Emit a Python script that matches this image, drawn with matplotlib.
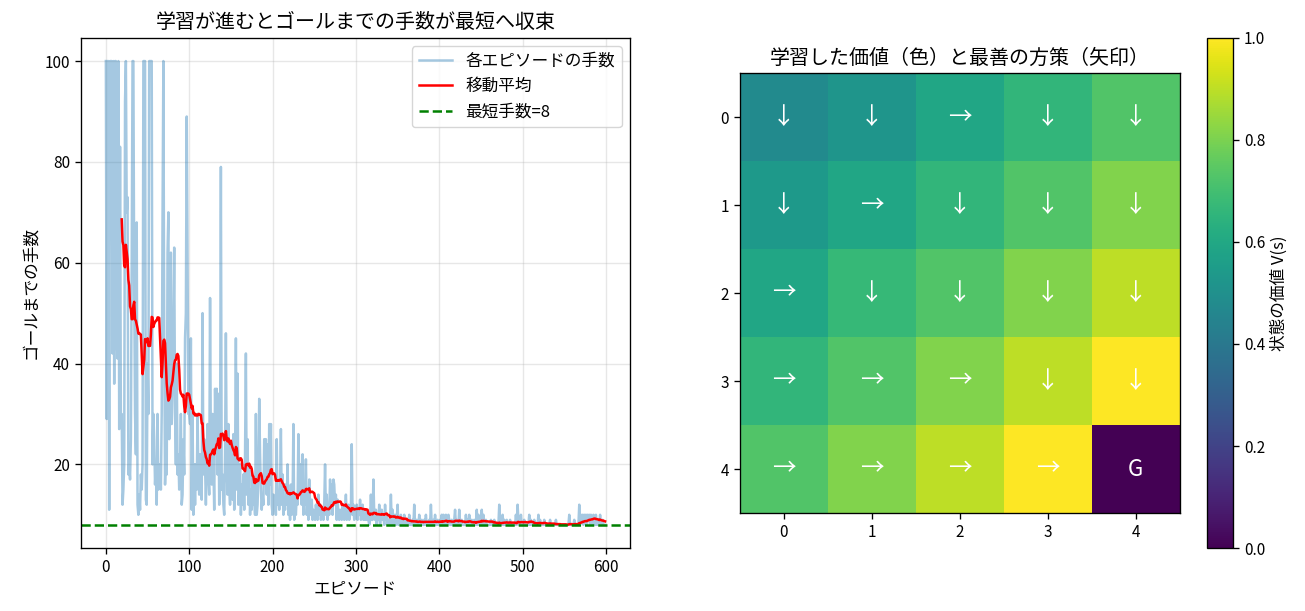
import numpy as np
import pandas as pd
import matplotlib
matplotlib.use("Agg")
import matplotlib.pyplot as plt

plt.rcParams['font.family'] = ['Noto Sans CJK JP', 'DejaVu Sans']
plt.rcParams['axes.linewidth'] = 0.96
plt.rcParams['xtick.major.size'] = 4.2
plt.rcParams['ytick.major.size'] = 4.2
plt.rcParams['xtick.major.width'] = 0.96
plt.rcParams['ytick.major.width'] = 0.96

# 各エピソードの手数 (20エピソードずつ)
steps = [
    100, 29, 100, 100, 11, 100, 100, 100, 42, 100, 36, 100, 100, 45, 41, 100, 27, 83, 28, 30,
    12, 15, 20, 92, 100, 70, 73, 18, 20, 17, 25, 60, 100, 100, 55, 30, 22, 68, 12, 10,
    14, 11, 18, 15, 20, 100, 100, 100, 13, 12, 40, 30, 100, 100, 100, 100, 20, 30, 25, 16,
    20, 12, 30, 15, 18, 20, 15, 30, 69, 100, 45, 16, 22, 18, 62, 70, 25, 40, 62, 28,
    35, 45, 63, 30, 20, 40, 18, 22, 15, 20, 30, 12, 14, 25, 18, 45, 50, 89, 60, 30,
    30, 28, 45, 11, 30, 10, 20, 12, 20, 15, 30, 18, 14, 22, 16, 13, 50, 18, 25, 20,
    12, 20, 28, 18, 14, 53, 22, 16, 30, 20, 11, 35, 24, 35, 18, 34, 12, 20, 79, 15,
    18, 12, 10, 22, 46, 20, 14, 28, 16, 12, 24, 18, 13, 26, 11, 20, 45, 15, 38, 12,
    14, 20, 10, 16, 12, 18, 11, 22, 42, 14, 25, 12, 20, 10, 15, 11, 18, 12, 14, 10,
    30, 10, 12, 18, 33, 22, 15, 11, 14, 12, 25, 20, 25, 14, 24, 12, 28, 16, 28, 12,
    10, 14, 11, 12, 10, 25, 12, 14, 11, 16, 27, 12, 18, 10, 13, 11, 16, 12, 20, 10,
    12, 9, 16, 10, 12, 28, 9, 11, 10, 14, 12, 26, 18, 14, 20, 12, 22, 10, 16, 12,
    21, 10, 14, 9, 17, 12, 10, 13, 9, 11, 10, 9, 12, 10, 9, 14, 10, 12, 9, 11,
    10, 9, 12, 20, 10, 14, 9, 12, 10, 17, 12, 16, 10, 17, 16, 12, 14, 9, 13, 10,
    9, 11, 10, 9, 12, 10, 9, 11, 14, 9, 10, 12, 9, 10, 11, 24, 10, 12, 9, 11,
    10, 12, 9, 11, 10, 13, 9, 10, 12, 9, 10, 9, 11, 9, 10, 9, 8, 9, 14, 9,
    9, 17, 10, 9, 11, 8, 10, 9, 12, 8, 10, 11, 9, 10, 8, 12, 9, 10, 8, 9,
    8, 9, 14, 8, 11, 9, 8, 10, 8, 9, 12, 8, 9, 8, 10, 8, 9, 8, 10, 8,
    8, 9, 8, 8, 10, 8, 8, 8, 9, 8, 12, 8, 8, 9, 8, 8, 10, 8, 8, 9,
    8, 8, 9, 8, 10, 8, 8, 8, 9, 8, 12, 8, 8, 9, 8, 10, 8, 8, 9, 8,
    8, 9, 8, 10, 8, 10, 8, 9, 10, 8, 8, 10, 9, 8, 8, 9, 8, 8, 9, 11,
    8, 9, 8, 8, 11, 8, 8, 9, 8, 8, 8, 8, 10, 8, 9, 8, 10, 8, 8, 9,
    8, 8, 9, 8, 8, 11, 8, 10, 8, 9, 8, 11, 8, 10, 8, 8, 9, 8, 8, 8,
    8, 8, 9, 8, 8, 8, 9, 8, 8, 8, 8, 8, 12, 8, 8, 8, 10, 8, 9, 8,
    8, 9, 8, 8, 8, 9, 8, 8, 8, 8, 8, 8, 10, 8, 12, 9, 8, 8, 10, 8,
    8, 8, 9, 8, 8, 8, 8, 8, 10, 8, 9, 8, 8, 8, 9, 8, 8, 8, 8, 10,
    8, 9, 8, 8, 8, 8, 9, 8, 8, 8, 8, 8, 8, 9, 8, 8, 8, 8, 8, 8,
    9, 8, 8, 8, 8, 8, 8, 8, 8, 8, 8, 8, 8, 8, 8, 8, 10, 8, 8, 8,
    8, 8, 9, 8, 8, 8, 8, 8, 12, 8, 10, 9, 10, 8, 10, 9, 10, 8, 10, 9,
    10, 8, 10, 9, 8, 10, 9, 8, 10, 8, 9, 8, 8, 10, 8, 8, 9, 8, 8, 8,
]
window = 20
optimal = 8

# 状態価値 V(s)
values = [
    [0.48, 0.52, 0.59, 0.66, 0.73],
    [0.54, 0.59, 0.66, 0.73, 0.81],
    [0.59, 0.67, 0.73, 0.81, 0.90],
    [0.66, 0.73, 0.81, 0.90, 1.00],
    [0.73, 0.81, 0.90, 1.00, 0.00],
]
# 最善の方策
policy = [
    ["↓", "↓", "→", "↓", "↓"],
    ["↓", "→", "↓", "↓", "↓"],
    ["→", "↓", "↓", "↓", "↓"],
    ["→", "→", "→", "↓", "↓"],
    ["→", "→", "→", "→", "G"],
]

episodes = np.arange(len(steps))
moving = pd.Series(steps).rolling(window).mean()

fig = plt.figure(figsize=(13.05, 6.11), dpi=100)
ax1 = fig.add_axes([0.062, 0.103, 0.4208, 0.835])
ax2 = fig.add_axes([0.567, 0.160, 0.337, 0.720])
cax = fig.add_axes([0.925, 0.103, 0.020, 0.835])

fs = 12
ts = 11
lw = 1.8
ax1.plot(episodes, steps, color="C0", alpha=0.4, lw=lw, label="各エピソードの手数")
ax1.plot(episodes, moving, color="red", lw=lw, label="移動平均")
ax1.axhline(optimal, color="green", ls="--", lw=lw, label=f"最短手数={optimal}")
ax1.set_title("学習が進むとゴールまでの手数が最短へ収束", fontsize=14.4, pad=7)
ax1.set_xlabel("エピソード", fontsize=fs)
ax1.set_ylabel("ゴールまでの手数", fontsize=fs)
ax1.tick_params(labelsize=ts)
ax1.grid(alpha=0.3, lw=0.96)
ax1.legend(fontsize=fs, loc="upper right")

im = ax2.imshow(np.array(values), cmap="viridis", vmin=0, vmax=1)
for r in range(5):
    for c in range(5):
        if policy[r][c] == "G":
            ax2.text(c, r, "G", ha="center", va="center", color="white", fontsize=16)
        else:
            ax2.text(c, r, policy[r][c], ha="center", va="center", color="white", fontsize=17)
ax2.set_xticks(range(5))
ax2.set_yticks(range(5))
ax2.tick_params(labelsize=ts)
ax2.set_title("学習した価値（色）と最善の方策（矢印）", fontsize=14.4, pad=7)

cb = fig.colorbar(im, cax=cax)
cb.set_label("状態の価値 V(s)", fontsize=fs)
cb.ax.tick_params(labelsize=ts)
cb.outline.set_linewidth(0.96)

fig.savefig("out.png", dpi=100)
